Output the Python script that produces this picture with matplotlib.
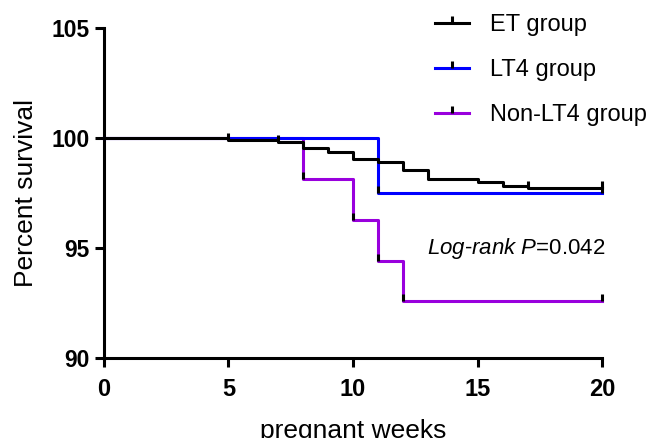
import numpy as np
import matplotlib.pyplot as plt

plt.rcParams['font.family'] = ['Liberation Sans', 'DejaVu Sans']
plt.rcParams['mathtext.fontset'] = 'custom'
plt.rcParams['mathtext.it'] = 'Liberation Sans:italic'
plt.rcParams['mathtext.rm'] = 'Liberation Sans'

# Kaplan-Meier steps (weeks, percent survival)
et_weeks = [0, 5, 7, 8, 9, 10, 11, 12, 13, 15, 16, 17, 20]
et_surv = [100, 99.92, 99.84, 99.54, 99.36, 99.04, 98.93, 98.55, 98.14, 97.99, 97.82, 97.72, 97.72]
et_cens = [5, 7, 17, 20]

lt4_weeks = [0, 11, 20]
lt4_surv = [100, 97.5, 97.5]
lt4_cens = [11, 20]

non_weeks = [0, 8, 10, 11, 12, 20]
non_surv = [100, 98.15, 96.3, 94.44, 92.59, 92.59]
non_cens = [8, 10, 11, 12, 20]

groups = [
    ("Non-LT4 group", non_weeks, non_surv, non_cens, '#9900DD'),
    ("LT4 group", lt4_weeks, lt4_surv, lt4_cens, '#0000FF'),
    ("ET group", et_weeks, et_surv, et_cens, 'black'),
]

fig = plt.figure(figsize=(6.49, 4.38), dpi=100)
ax = fig.add_axes([0.160, 0.182, 0.768, 0.754])

handles = {}
for name, wk, sv, cens, col in groups:
    ax.step(wk, sv, where='post', color=col, lw=2.2, clip_on=False, zorder=3)
    # censor ticks sit on the step level in force at that week
    cy = [sv[max(i for i in range(len(wk)) if wk[i] <= c)] for c in cens]
    ax.plot(cens, cy, ls='none', marker=2, ms=5, mew=2.2, color='black',
            clip_on=False, zorder=4)
    h, = ax.plot([], [], color=col, lw=2.2, marker=2, ms=5, mew=2.2,
                 mec='black', label=name)
    handles[name] = h

ax.set_xlim(0, 20)
ax.set_ylim(90, 105)
ax.set_xticks([0, 5, 10, 15, 20])
ax.set_yticks([90, 95, 100, 105])
for s in ['top', 'right']:
    ax.spines[s].set_visible(False)
for s in ['left', 'bottom']:
    ax.spines[s].set_linewidth(2.2)
ax.tick_params(length=6.5, width=2.2)
ax.tick_params(axis='x', pad=8, labelsize=17)
ax.tick_params(axis='y', pad=3.6, labelsize=16.5)
for lab in ax.get_xticklabels() + ax.get_yticklabels():
    lab.set_fontweight('bold')

ax.set_xlabel("pregnant weeks", fontsize=19, labelpad=12.5)
ax.set_ylabel("Percent survival", fontsize=19, labelpad=10)

order = ["ET group", "LT4 group", "Non-LT4 group"]
ax.legend([handles[n] for n in order], order, loc='upper left',
          bbox_to_anchor=(435 / 649, 1 - 14 / 438), bbox_transform=fig.transFigure,
          frameon=False, fontsize=17, handlelength=1.45, handletextpad=0.9,
          labelspacing=0.97, borderpad=0, borderaxespad=0, numpoints=1)

ax.text(12.95, 95.0, "$Log$-$rank$ $P$=0.042", fontsize=16, va='center')

fig.savefig("out.png", dpi=100)
